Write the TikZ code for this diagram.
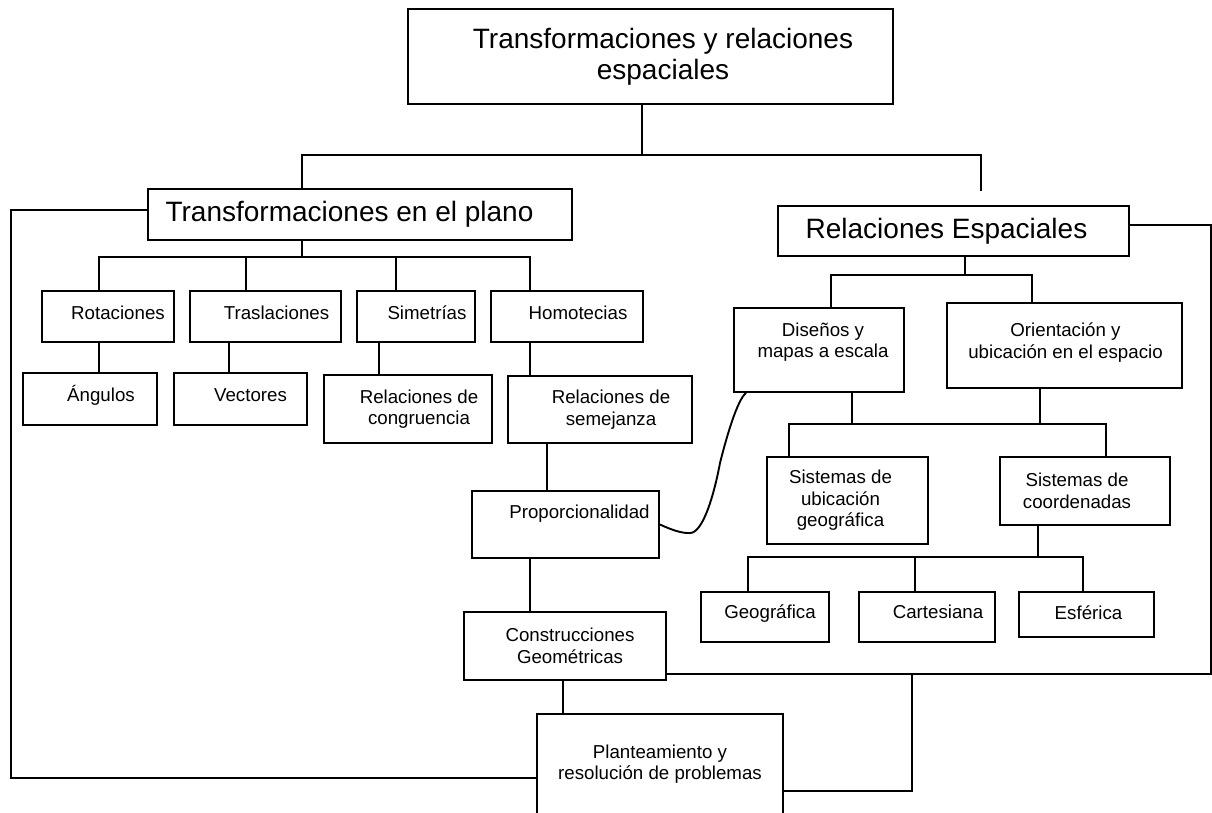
\documentclass[tikz,border=0pt]{standalone}
\usepackage{fontspec}
\setmainfont{Liberation Sans}
\usetikzlibrary{positioning}

\begin{document}
\begin{tikzpicture}[%
	x=1pt,y=-1pt,line width=1.9pt,
	box/.style 2 args={draw,inner sep=0pt,minimum width=#1,minimum height=#2,align=center},
	big/.style={font=\fontsize{28}{31}\selectfont},
	small/.style={font=\fontsize{18.7}{21.5}\selectfont},
	nx/.style={execute at begin node={\hspace*{#1}}},
	up/.style={text height=14pt,text depth=#1}]

	\useasboundingbox (0,0) rectangle (1212,813);

	% main titles
	\node[box={485pt}{95pt},big,nx=25pt]	(TOP)	at (650.5,56.5)	{Transformaciones y relaciones\\espaciales};
	\node[box={424pt}{51pt},big,nx=-21pt]	(TEP)	at (360,214.5)	{Transformaciones en el plano};
	\node[box={351pt}{50pt},big,nx=-14pt]	(RE)	at (953.5,231)	{Relaciones Espaciales};

	% transformaciones en el plano
	\node[box={132pt}{51pt},small,nx=20pt,up=8.6pt]	(ROT)	at (108,316.5)	{Rotaciones};
	\node[box={151pt}{51pt},small,nx=22pt,up=8.6pt]	(TRA)	at (265.5,316.5)	{Traslaciones};
	\node[box={118pt}{51pt},small,nx=22pt,up=8.6pt]	(SIM)	at (416,316.5)	{Simetrías};
	\node[box={152pt}{51pt},small,nx=22pt,up=8.6pt]	(HOM)	at (567,316.5)	{Homotecias};
	\node[box={134pt}{52pt},small,nx=22pt,up=8.6pt]	(ANG)	at (90,399)	{Ángulos};
	\node[box={133pt}{52pt},small,nx=20pt,up=8.6pt]	(VEC)	at (240.5,399)	{Vectores};
	\node[box={168pt}{68pt},small,nx=22pt]	(CON)	at (408,409)	{Relaciones de\\congruencia};
	\node[box={184pt}{67pt},small,nx=22pt]	(SEM)	at (600,409.5)	{Relaciones de\\semejanza};
	\node[box={187pt}{67pt},small,nx=28pt,up=25.6pt]	(PRO)	at (565.5,524.5)	{Proporcionalidad};
	\node[box={202pt}{68pt},small,nx=10pt]	(CG)	at (565,646)	{Construcciones\\Geométricas};
	\node[box={246pt}{100pt},small]	(PLA)	at (660,764)	{Planteamiento y\\resolución de problemas};

	% relaciones espaciales
	\node[box={170pt}{84pt},small,nx=8pt,text depth=20pt]	(DIS)	at (819,350)	{Diseños y\\mapas a escala};
	\node[box={235pt}{85pt},small,nx=2pt,text depth=10pt]	(ORI)	at (1064.5,345.5)	{Orientación y\\ubicación en el espacio};
	\node[box={161pt}{87pt},small,nx=-14pt]	(SUG)	at (847.5,500.5)	{Sistemas de\\ubicación\\geográfica};
	\node[box={170pt}{68pt},small,nx=-16pt]	(SCO)	at (1085,491)	{Sistemas de\\coordenadas};
	\node[box={128pt}{50pt},small,nx=10pt,up=10.6pt]	(GEO)	at (765,617)	{Geográfica};
	\node[box={136pt}{50pt},small,nx=22pt,up=10.6pt]	(CAR)	at (927,617)	{Cartesiana};
	\node[box={135pt}{45pt},small,nx=4pt,up=4.6pt]	(ESF)	at (1086.5,614.5)	{Esférica};

	% top level
	\coordinate (busA) at (302,155);
	\coordinate (reEnd) at (981,191);
	\draw (642,0 |- TOP.south) -- (642,0 |- busA);
	\draw (busA |- TEP.north) -- (busA) -| (reEnd);

	% plano
	\coordinate (busB) at (302,257);
	\draw (busB |- TEP.south) -- (busB);
	\draw (99,0 |- ROT.north) |- (busB) -| (530,0 |- HOM.north);
	\draw (246,0 |- TRA.north) -- (246,0 |- busB);
	\draw (396,0 |- SIM.north) -- (396,0 |- busB);
	\draw (99,0 |- ROT.south) -- (99,0 |- ANG.north);
	\draw (229,0 |- TRA.south) -- (229,0 |- VEC.north);
	\draw (379,0 |- SIM.south) -- (379,0 |- CON.north);
	\draw (530,0 |- HOM.south) -- (530,0 |- SEM.north);
	\draw (547,0 |- SEM.south) -- (547,0 |- PRO.north);
	\draw (530,0 |- PRO.south) -- (530,0 |- CG.north);
	\draw (563,0 |- CG.south) -- (563,0 |- PLA.north);

	% espaciales
	\coordinate (busC) at (965,275);
	\draw (busC |- RE.south) -- (busC);
	\draw (831,0 |- DIS.north) |- (busC) -| (1032,0 |- ORI.north);
	\coordinate (busD) at (852,424);
	\draw (busD |- DIS.south) -- (busD);
	\draw (1040,0 |- ORI.south) -- (1040,0 |- busD);
	\draw (789,0 |- SUG.north) |- (busD) -| (1106,0 |- SCO.north);
	\coordinate (busE) at (1038,557);
	\draw (busE |- SCO.south) -- (busE);
	\draw (748,0 |- GEO.north) |- (busE) -| (1083,0 |- ESF.north);
	\draw (915,0 |- CAR.north) -- (915,0 |- busE);

	% loops to the problems box
	\coordinate (lc) at (11,778);
	\draw ([yshift=4.5pt]TEP.west) -| (lc) -- (lc -| PLA.west);
	\coordinate (rc) at (1211,674);
	\draw ([yshift=6pt]RE.east) -| (rc) -- (rc -| CG.east);
	\coordinate (pc) at (912,791);
	\draw (pc |- rc) -- (pc) -- (pc -| PLA.east);

	% curve
	\draw (PRO.east) .. controls (672,530) and (682,533.5) .. (690,533)
		.. controls (702,533) and (713,500) .. (720,463)
		.. controls (726,439) and (737,400) .. (746,0 |- DIS.south);

\end{tikzpicture}
\end{document}
